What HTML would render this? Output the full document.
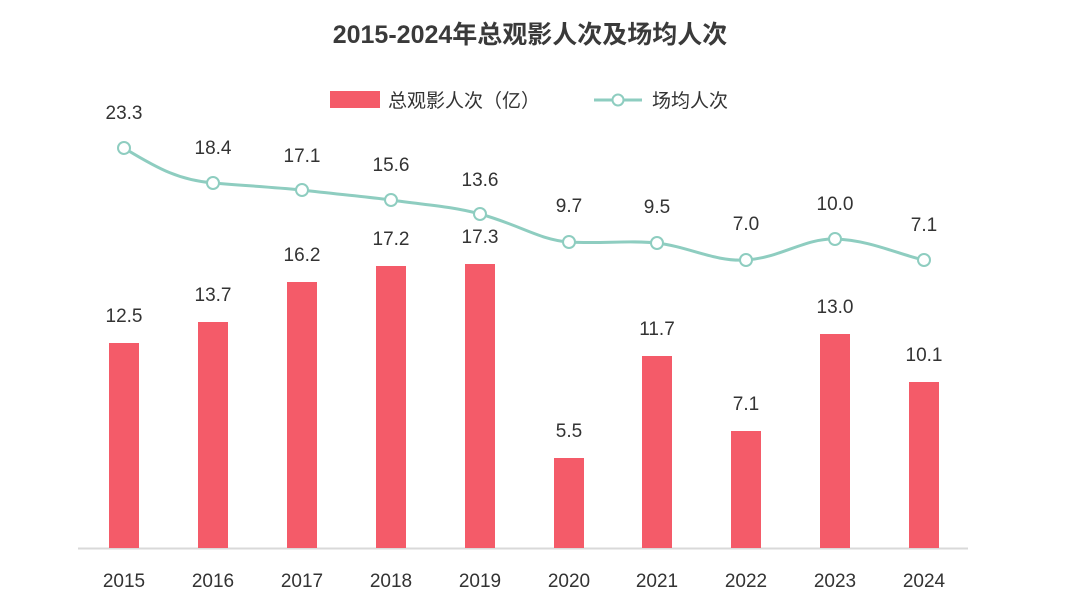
<!DOCTYPE html>
<html><head><meta charset="utf-8"><style>
body{margin:0;background:#fff;}
svg text{font-family:"Liberation Sans","Noto Sans CJK SC",sans-serif;fill:#333;}
</style></head><body>
<svg width="1079" height="600" viewBox="0 0 1079 600" xmlns="http://www.w3.org/2000/svg">
<text x="530" y="43" text-anchor="middle" font-size="25" font-weight="bold" fill="#3a3a3a" style="fill:#3a3a3a">2015-2024年总观影人次及场均人次</text>
<rect x="330" y="91" width="50" height="17" fill="#f45b69"/>
<text x="388" y="107" font-size="19">总观影人次（亿）</text>
<line x1="594" y1="100" x2="642" y2="100" stroke="#8ecdc0" stroke-width="3"/>
<circle cx="618" cy="100" r="5.5" fill="#fff" stroke="#8ecdc0" stroke-width="2"/>
<text x="652" y="107" font-size="19">场均人次</text>
<line x1="78" y1="548.5" x2="968" y2="548.5" stroke="#d9d9d9" stroke-width="2"/>
<g fill="#f45b69">
<rect x="109" y="343" width="30" height="205"/>
<rect x="198" y="322" width="30" height="226"/>
<rect x="287" y="282" width="30" height="266"/>
<rect x="376" y="266" width="30" height="282"/>
<rect x="465" y="264" width="30" height="284"/>
<rect x="554" y="458" width="30" height="90"/>
<rect x="642" y="356" width="30" height="192"/>
<rect x="731" y="431" width="30" height="117"/>
<rect x="820" y="334" width="30" height="214"/>
<rect x="909" y="382" width="30" height="166"/>
</g>
<g font-size="19" text-anchor="middle">
<text x="124" y="322">12.5</text><text x="213" y="301">13.7</text><text x="302" y="261">16.2</text>
<text x="391" y="245">17.2</text><text x="480" y="243">17.3</text><text x="569" y="437">5.5</text>
<text x="657" y="335">11.7</text><text x="746" y="410">7.1</text><text x="835" y="313">13.0</text>
<text x="924" y="361">10.1</text>
<text x="124" y="119">23.3</text><text x="213" y="154">18.4</text><text x="302" y="162">17.1</text>
<text x="391" y="171">15.6</text><text x="480" y="186">13.6</text><text x="569" y="212">9.7</text>
<text x="657" y="213">9.5</text><text x="746" y="230">7.0</text><text x="835" y="210">10.0</text>
<text x="924" y="231">7.1</text>
</g>
<path d="M124,148 C160,170 180,180 213,183 C250,186 270,187 302,190 C335,194 360,196 391,200 C425,205 450,206 480,214 C520,225 540,240 569,242 C600,244 630,240 657,243 C690,247 715,262 746,260 C780,258 805,238 835,239 C870,240 900,255 924,260" fill="none" stroke="#8ecdc0" stroke-width="3"/>
<g fill="#fff" stroke="#8ecdc0" stroke-width="2">
<circle cx="124" cy="148" r="6"/><circle cx="213" cy="183" r="6"/><circle cx="302" cy="190" r="6"/>
<circle cx="391" cy="200" r="6"/><circle cx="480" cy="214" r="6"/><circle cx="569" cy="242" r="6"/>
<circle cx="657" cy="243" r="6"/><circle cx="746" cy="260" r="6"/><circle cx="835" cy="239" r="6"/>
<circle cx="924" cy="260" r="6"/>
</g>
<g font-size="19" text-anchor="middle">
<text x="124" y="587">2015</text><text x="213" y="587">2016</text><text x="302" y="587">2017</text>
<text x="391" y="587">2018</text><text x="480" y="587">2019</text><text x="569" y="587">2020</text>
<text x="657" y="587">2021</text><text x="746" y="587">2022</text><text x="835" y="587">2023</text>
<text x="924" y="587">2024</text>
</g>
</svg>
</body></html>
